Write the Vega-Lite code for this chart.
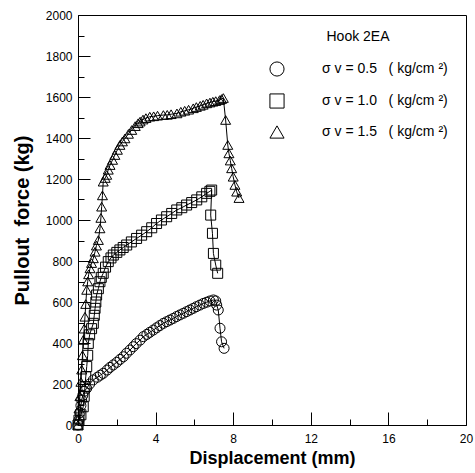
{
  "$schema": "https://vega.github.io/schema/vega-lite/v6.json",
  "width": 388,
  "height": 410,
  "autosize": {"type": "none"},
  "padding": {"left": 78, "top": 15, "right": 9, "bottom": 48},
  "background": "white",
  "config": {
    "view": {"stroke": "black", "strokeWidth": 1},
    "font": "Liberation Sans",
    "axis": {"grid": false, "domainColor": "black", "tickColor": "black", "labelColor": "black", "titleColor": "black", "labelFont": "Liberation Sans", "titleFont": "Liberation Sans", "labelFontSize": 12}
  },
  "data": {"values": [
    {"s":"1.5","i":0,"x":0.0,"y":0},{"s":"1.5","i":1,"x":0.02,"y":30},{"s":"1.5","i":2,"x":0.05,"y":80},{"s":"1.5","i":3,"x":0.1,"y":140},{"s":"1.5","i":4,"x":0.15,"y":210},{"s":"1.5","i":5,"x":0.19,"y":270},{"s":"1.5","i":6,"x":0.23,"y":340},{"s":"1.5","i":7,"x":0.27,"y":415},{"s":"1.5","i":8,"x":0.32,"y":470},{"s":"1.5","i":9,"x":0.36,"y":528},{"s":"1.5","i":10,"x":0.4,"y":590},{"s":"1.5","i":11,"x":0.45,"y":659},{"s":"1.5","i":12,"x":0.5,"y":700},{"s":"1.5","i":13,"x":0.55,"y":735},{"s":"1.5","i":14,"x":0.62,"y":764},{"s":"1.5","i":15,"x":0.7,"y":790},{"s":"1.5","i":16,"x":0.79,"y":813},{"s":"1.5","i":17,"x":0.88,"y":845},{"s":"1.5","i":18,"x":0.95,"y":875},{"s":"1.5","i":19,"x":1.05,"y":902},{"s":"1.5","i":20,"x":1.13,"y":959},{"s":"1.5","i":21,"x":1.18,"y":1010},{"s":"1.5","i":22,"x":1.22,"y":1065},{"s":"1.5","i":23,"x":1.26,"y":1120},{"s":"1.5","i":24,"x":1.3,"y":1187},{"s":"1.5","i":25,"x":1.4,"y":1205},{"s":"1.5","i":26,"x":1.48,"y":1220},{"s":"1.5","i":27,"x":1.56,"y":1245},{"s":"1.5","i":28,"x":1.65,"y":1268},{"s":"1.5","i":29,"x":1.78,"y":1293},{"s":"1.5","i":30,"x":1.9,"y":1317},{"s":"1.5","i":31,"x":2.03,"y":1342},{"s":"1.5","i":32,"x":2.16,"y":1366},{"s":"1.5","i":33,"x":2.29,"y":1383},{"s":"1.5","i":34,"x":2.42,"y":1398},{"s":"1.5","i":35,"x":2.6,"y":1420},{"s":"1.5","i":36,"x":2.77,"y":1439},{"s":"1.5","i":37,"x":2.95,"y":1458},{"s":"1.5","i":38,"x":3.1,"y":1472},{"s":"1.5","i":39,"x":3.2,"y":1480},{"s":"1.5","i":40,"x":3.35,"y":1490},{"s":"1.5","i":41,"x":3.5,"y":1497},{"s":"1.5","i":42,"x":3.7,"y":1504},{"s":"1.5","i":43,"x":3.9,"y":1506},{"s":"1.5","i":44,"x":4.1,"y":1509},{"s":"1.5","i":45,"x":4.4,"y":1512},{"s":"1.5","i":46,"x":4.6,"y":1513},{"s":"1.5","i":47,"x":4.8,"y":1516},{"s":"1.5","i":48,"x":5.1,"y":1520},{"s":"1.5","i":49,"x":5.3,"y":1528},{"s":"1.5","i":50,"x":5.5,"y":1533},{"s":"1.5","i":51,"x":5.7,"y":1538},{"s":"1.5","i":52,"x":5.94,"y":1545},{"s":"1.5","i":53,"x":6.1,"y":1551},{"s":"1.5","i":54,"x":6.3,"y":1557},{"s":"1.5","i":55,"x":6.45,"y":1562},{"s":"1.5","i":56,"x":6.63,"y":1569},{"s":"1.5","i":57,"x":6.8,"y":1573},{"s":"1.5","i":58,"x":6.95,"y":1577},{"s":"1.5","i":59,"x":7.1,"y":1580},{"s":"1.5","i":60,"x":7.3,"y":1585},{"s":"1.5","i":61,"x":7.4,"y":1590},{"s":"1.5","i":62,"x":7.49,"y":1595},{"s":"1.5","i":63,"x":7.61,"y":1488},{"s":"1.5","i":64,"x":7.72,"y":1366},{"s":"1.5","i":65,"x":7.78,"y":1325},{"s":"1.5","i":66,"x":7.85,"y":1290},{"s":"1.5","i":67,"x":7.92,"y":1252},{"s":"1.5","i":68,"x":8.0,"y":1211},{"s":"1.5","i":69,"x":8.09,"y":1171},{"s":"1.5","i":70,"x":8.18,"y":1138},{"s":"1.5","i":71,"x":8.3,"y":1107},
    {"s":"1.0","i":0,"x":0.0,"y":0},{"s":"1.0","i":1,"x":0.05,"y":24},{"s":"1.0","i":2,"x":0.15,"y":50},{"s":"1.0","i":3,"x":0.27,"y":89},{"s":"1.0","i":4,"x":0.32,"y":140},{"s":"1.0","i":5,"x":0.36,"y":187},{"s":"1.0","i":6,"x":0.4,"y":235},{"s":"1.0","i":7,"x":0.45,"y":285},{"s":"1.0","i":8,"x":0.5,"y":340},{"s":"1.0","i":9,"x":0.53,"y":398},{"s":"1.0","i":10,"x":0.6,"y":440},{"s":"1.0","i":11,"x":0.7,"y":470},{"s":"1.0","i":12,"x":0.79,"y":496},{"s":"1.0","i":13,"x":0.84,"y":535},{"s":"1.0","i":14,"x":0.88,"y":569},{"s":"1.0","i":15,"x":0.92,"y":600},{"s":"1.0","i":16,"x":0.96,"y":634},{"s":"1.0","i":17,"x":1.05,"y":665},{"s":"1.0","i":18,"x":1.13,"y":699},{"s":"1.0","i":19,"x":1.2,"y":720},{"s":"1.0","i":20,"x":1.3,"y":740},{"s":"1.0","i":21,"x":1.42,"y":770},{"s":"1.0","i":22,"x":1.56,"y":797},{"s":"1.0","i":23,"x":1.7,"y":815},{"s":"1.0","i":24,"x":1.82,"y":829},{"s":"1.0","i":25,"x":2.0,"y":842},{"s":"1.0","i":26,"x":2.16,"y":854},{"s":"1.0","i":27,"x":2.33,"y":866},{"s":"1.0","i":28,"x":2.51,"y":878},{"s":"1.0","i":29,"x":2.75,"y":893},{"s":"1.0","i":30,"x":3.02,"y":910},{"s":"1.0","i":31,"x":3.28,"y":926},{"s":"1.0","i":32,"x":3.54,"y":943},{"s":"1.0","i":33,"x":3.8,"y":962},{"s":"1.0","i":34,"x":4.05,"y":983},{"s":"1.0","i":35,"x":4.3,"y":1000},{"s":"1.0","i":36,"x":4.57,"y":1016},{"s":"1.0","i":37,"x":4.83,"y":1032},{"s":"1.0","i":38,"x":5.09,"y":1049},{"s":"1.0","i":39,"x":5.35,"y":1060},{"s":"1.0","i":40,"x":5.6,"y":1073},{"s":"1.0","i":41,"x":5.86,"y":1085},{"s":"1.0","i":42,"x":6.12,"y":1098},{"s":"1.0","i":43,"x":6.38,"y":1113},{"s":"1.0","i":44,"x":6.63,"y":1130},{"s":"1.0","i":45,"x":6.8,"y":1140},{"s":"1.0","i":46,"x":6.89,"y":1146},{"s":"1.0","i":47,"x":6.84,"y":1024},{"s":"1.0","i":48,"x":6.93,"y":935},{"s":"1.0","i":49,"x":6.98,"y":837},{"s":"1.0","i":50,"x":7.1,"y":780},{"s":"1.0","i":51,"x":7.2,"y":740},
    {"s":"0.5","i":0,"x":0.0,"y":0},{"s":"0.5","i":1,"x":0.05,"y":24},{"s":"0.5","i":2,"x":0.1,"y":60},{"s":"0.5","i":3,"x":0.15,"y":95},{"s":"0.5","i":4,"x":0.19,"y":122},{"s":"0.5","i":5,"x":0.25,"y":145},{"s":"0.5","i":6,"x":0.33,"y":165},{"s":"0.5","i":7,"x":0.45,"y":179},{"s":"0.5","i":8,"x":0.6,"y":200},{"s":"0.5","i":9,"x":0.79,"y":220},{"s":"0.5","i":10,"x":1.0,"y":233},{"s":"0.5","i":11,"x":1.15,"y":243},{"s":"0.5","i":12,"x":1.3,"y":252},{"s":"0.5","i":13,"x":1.5,"y":268},{"s":"0.5","i":14,"x":1.65,"y":281},{"s":"0.5","i":15,"x":1.82,"y":293},{"s":"0.5","i":16,"x":2.0,"y":306},{"s":"0.5","i":17,"x":2.17,"y":320},{"s":"0.5","i":18,"x":2.34,"y":333},{"s":"0.5","i":19,"x":2.5,"y":350},{"s":"0.5","i":20,"x":2.68,"y":366},{"s":"0.5","i":21,"x":2.85,"y":382},{"s":"0.5","i":22,"x":3.0,"y":397},{"s":"0.5","i":23,"x":3.2,"y":414},{"s":"0.5","i":24,"x":3.37,"y":431},{"s":"0.5","i":25,"x":3.55,"y":442},{"s":"0.5","i":26,"x":3.7,"y":452},{"s":"0.5","i":27,"x":3.88,"y":463},{"s":"0.5","i":28,"x":4.05,"y":474},{"s":"0.5","i":29,"x":4.22,"y":485},{"s":"0.5","i":30,"x":4.4,"y":496},{"s":"0.5","i":31,"x":4.57,"y":504},{"s":"0.5","i":32,"x":4.74,"y":512},{"s":"0.5","i":33,"x":4.91,"y":520},{"s":"0.5","i":34,"x":5.08,"y":529},{"s":"0.5","i":35,"x":5.25,"y":537},{"s":"0.5","i":36,"x":5.43,"y":545},{"s":"0.5","i":37,"x":5.6,"y":553},{"s":"0.5","i":38,"x":5.77,"y":561},{"s":"0.5","i":39,"x":5.94,"y":569},{"s":"0.5","i":40,"x":6.1,"y":577},{"s":"0.5","i":41,"x":6.28,"y":585},{"s":"0.5","i":42,"x":6.46,"y":593},{"s":"0.5","i":43,"x":6.63,"y":599},{"s":"0.5","i":44,"x":6.8,"y":605},{"s":"0.5","i":45,"x":6.98,"y":610},{"s":"0.5","i":46,"x":7.1,"y":605},{"s":"0.5","i":47,"x":7.15,"y":585},{"s":"0.5","i":48,"x":7.23,"y":561},{"s":"0.5","i":49,"x":7.32,"y":472},{"s":"0.5","i":50,"x":7.4,"y":406},{"s":"0.5","i":51,"x":7.53,"y":374}
  ]},
  "encoding": {
    "x": {"field": "x", "type": "quantitative", "scale": {"domain": [0, 20], "nice": false},
      "axis": {"title": "Displacement (mm)", "values": [0,2,4,6,8,10,12,14,16,18,20],
        "labelExpr": "datum.value % 4 === 0 ? datum.label : ''",
        "tickSize": {"condition": {"test": "datum.value % 4 === 0", "value": -13}, "value": -6},
        "labelPadding": 21, "labelFlush": false, "titleFontSize": 18, "titleFontWeight": "bold", "titlePadding": 5}},
    "y": {"field": "y", "type": "quantitative", "scale": {"domain": [0, 2000], "nice": false},
      "axis": {"title": "Pullout\u00a0 force (kg)", "values": [0,100,200,300,400,500,600,700,800,900,1000,1100,1200,1300,1400,1500,1600,1700,1800,1900,2000],
        "labelExpr": "datum.value % 200 === 0 ? datum.label : ''", "format": "d",
        "tickSize": {"condition": {"test": "datum.value % 200 === 0", "value": -12}, "value": -6},
        "labelPadding": 18, "labelFlush": false, "titleFontSize": 20, "titleFontWeight": "bold", "titlePadding": 13}}
  },
  "layer": [
    {"mark": {"type": "line", "color": "black", "strokeWidth": 1},
     "encoding": {"detail": {"field": "s"}, "order": {"field": "i", "type": "quantitative"}}},
    {"mark": {"type": "point", "filled": false, "stroke": "black", "strokeWidth": 1, "size": 100, "opacity": 1},
     "encoding": {"shape": {"field": "s", "type": "nominal",
       "scale": {"domain": ["0.5", "1.0", "1.5"], "range": ["circle", "square", "triangle-up"]},
       "legend": {"title": "Hook 2EA", "orient": "none", "legendX": 191, "legendY": 15,
         "titleAnchor": "middle", "titleFontSize": 14, "titleFontWeight": "normal", "titleFont": "Liberation Sans", "titlePadding": 17,
         "labelExpr": "'\u03c3 v = ' + datum.label + '\u00a0\u00a0 ( kg/cm \u00b2)'",
         "labelFontSize": 14, "labelFont": "Liberation Sans", "labelOffset": 37, "symbolSize": 200,
         "symbolStrokeColor": "black", "symbolFillColor": "transparent", "symbolStrokeWidth": 1, "rowPadding": 12, "padding": 0}}}}
  ]
}
